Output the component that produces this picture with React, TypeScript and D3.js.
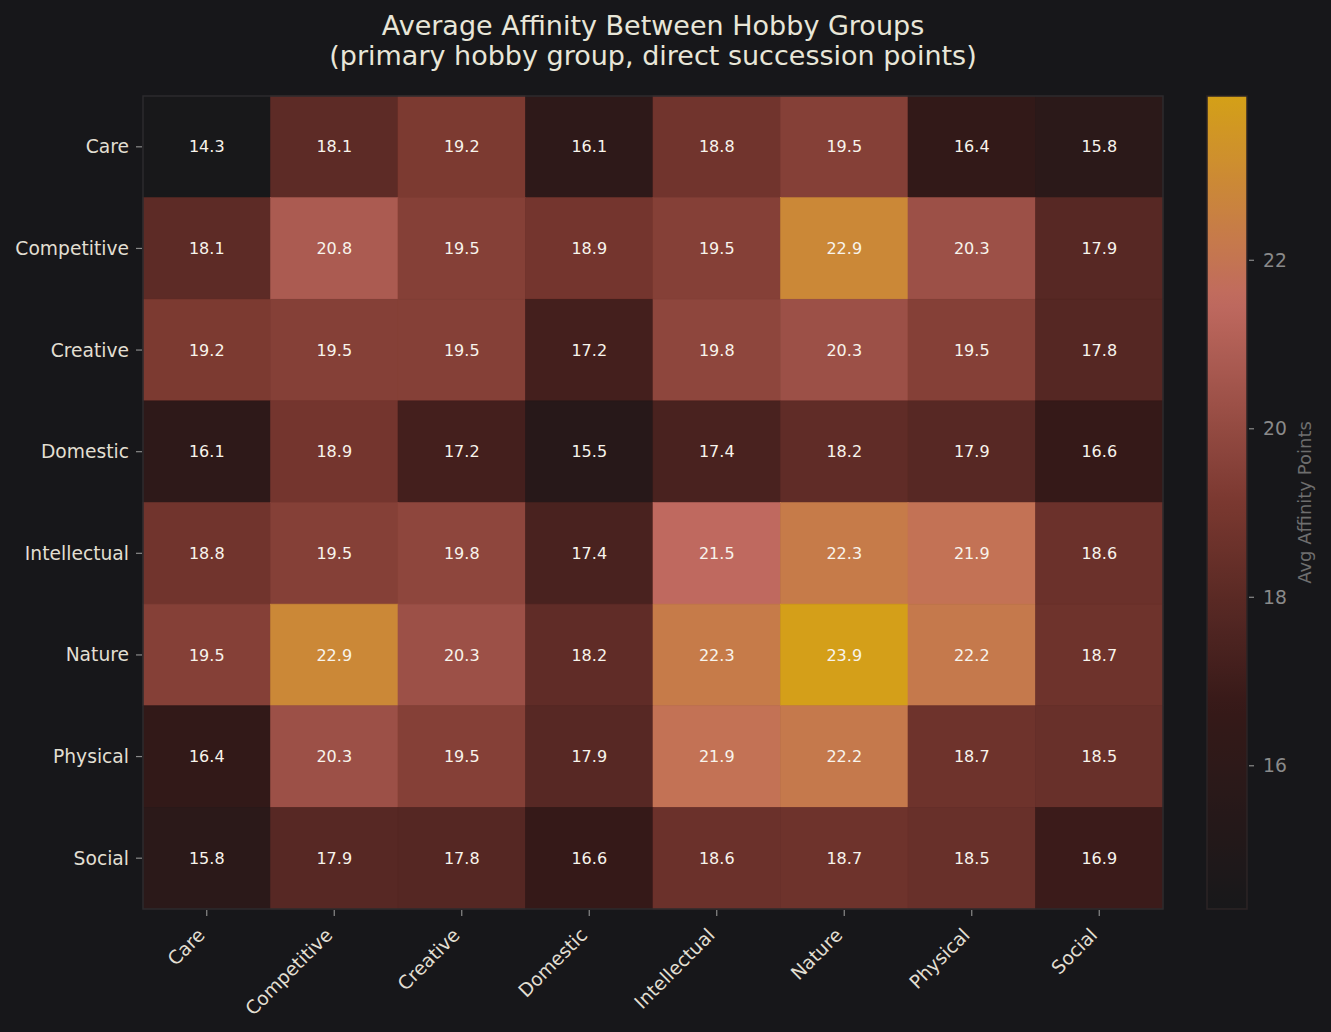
import React from "react";
import * as d3 from "d3";

const groups = ["Care", "Competitive", "Creative", "Domestic", "Intellectual", "Nature", "Physical", "Social"];

const careRow = [14.3, 18.1, 19.2, 16.1, 18.8, 19.5, 16.4, 15.8];
const competitiveRow = [18.1, 20.8, 19.5, 18.9, 19.5, 22.9, 20.3, 17.9];
const creativeRow = [19.2, 19.5, 19.5, 17.2, 19.8, 20.3, 19.5, 17.8];
const domesticRow = [16.1, 18.9, 17.2, 15.5, 17.4, 18.2, 17.9, 16.6];
const intellectualRow = [18.8, 19.5, 19.8, 17.4, 21.5, 22.3, 21.9, 18.6];
const natureRow = [19.5, 22.9, 20.3, 18.2, 22.3, 23.9, 22.2, 18.7];
const physicalRow = [16.4, 20.3, 19.5, 17.9, 21.9, 22.2, 18.7, 18.5];
const socialRow = [15.8, 17.9, 17.8, 16.6, 18.6, 18.7, 18.5, 16.9];

const matrix = [careRow, competitiveRow, creativeRow, domesticRow, intellectualRow, natureRow, physicalRow, socialRow];

const colorbarTicks = [16, 18, 20, 22];
const paletteStops = ["#18181a", "#361918", "#7a3830", "#c06a60", "#d4a017"];

const W = 1331;
const H = 1032;
const BG = "#17171a";
const FONT = "'DejaVu Sans', Verdana, sans-serif";

export default function App() {
  const left = 143;
  const right = 1163;
  const top = 96;
  const bottom = 909;

  const x = d3.scaleBand<string>().domain(groups).range([left, right]);
  const y = d3.scaleBand<string>().domain(groups).range([top, bottom]);

  const vmin = 14.3;
  const vmax = 23.95;
  const stopValues = paletteStops.map((_, i) => vmin + (i / (paletteStops.length - 1)) * (vmax - vmin));
  const color = d3
    .scaleLinear<string>()
    .domain(stopValues)
    .range(paletteStops)
    .interpolate(d3.interpolateRgb)
    .clamp(true);

  const cbLeft = 1207;
  const cbWidth = 40;
  const cbScale = d3.scaleLinear().domain([vmin, vmax]).range([bottom, top]);

  const gradStops = d3.range(0, 1.0001, 0.02);

  const cells = matrix.flatMap((row, i) =>
    row.map((v, j) => ({ r: groups[i], c: groups[j], v }))
  );

  return (
    <svg
      width={W}
      height={H}
      style={{ position: "absolute", left: 0, top: 0, display: "block", background: BG }}
      fontFamily={FONT}
    >
      <defs>
        <linearGradient id="cbGrad" x1="0" y1="1" x2="0" y2="0">
          {gradStops.map((t) => (
            <stop key={t} offset={t} stopColor={color(vmin + t * (vmax - vmin))} />
          ))}
        </linearGradient>
      </defs>
      <rect x={0} y={0} width={W} height={H} fill={BG} />

      {/* title */}
      <text x={653} y={35} textAnchor="middle" fill="#e8e6d8" fontSize={27}>
        Average Affinity Between Hobby Groups
      </text>
      <text x={653} y={65} textAnchor="middle" fill="#e8e6d8" fontSize={27}>
        (primary hobby group, direct succession points)
      </text>

      {/* cells */}
      <g>
        {cells.map((d) => (
          <rect
            key={d.r + d.c}
            x={x(d.c)}
            y={y(d.r)}
            width={x.bandwidth()}
            height={y.bandwidth()}
            fill={color(d.v)}
            stroke={color(d.v)}
            strokeWidth={0.6}
          />
        ))}
        {cells.map((d) => (
          <text
            key={"t" + d.r + d.c}
            x={(x(d.c) as number) + x.bandwidth() / 2}
            y={(y(d.r) as number) + y.bandwidth() / 2}
            dy="0.35em"
            textAnchor="middle"
            fill="#f8f4ec"
            fontSize={16}
          >
            {d.v.toFixed(1)}
          </text>
        ))}
        <rect x={left} y={top} width={right - left} height={bottom - top} fill="none" stroke="#2c2b2e" strokeWidth={1.5} />
      </g>

      {/* y axis */}
      <g>
        {groups.map((g) => {
          const cy = (y(g) as number) + y.bandwidth() / 2;
          return (
            <g key={g}>
              <line x1={left - 7} x2={left - 1} y1={cy} y2={cy} stroke="#8a8a8a" strokeWidth={1.2} />
              <text x={left - 14} y={cy} dy="0.35em" textAnchor="end" fill="#e2dfd2" fontSize={18.7}>
                {g}
              </text>
            </g>
          );
        })}
      </g>

      {/* x axis */}
      <g>
        {groups.map((g) => {
          const cx = (x(g) as number) + x.bandwidth() / 2;
          return (
            <g key={g}>
              <line x1={cx} x2={cx} y1={bottom + 1} y2={bottom + 7} stroke="#8a8a8a" strokeWidth={1.2} />
              <text
                transform={`translate(${cx - 10},${bottom + 18}) rotate(-45)`}
                textAnchor="end"
                dy="0.7em"
                fill="#e2dfd2"
                fontSize={18.7}
              >
                {g}
              </text>
            </g>
          );
        })}
      </g>

      {/* colorbar */}
      <g>
        <rect x={cbLeft} y={top} width={cbWidth} height={bottom - top} fill="url(#cbGrad)" stroke="#2c2426" strokeWidth={1.5} />
        {colorbarTicks.map((t) => (
          <g key={t}>
            <line
              x1={cbLeft + cbWidth + 2}
              x2={cbLeft + cbWidth + 7}
              y1={cbScale(t)}
              y2={cbScale(t)}
              stroke="#8a8a8a"
              strokeWidth={1.2}
            />
            <text x={cbLeft + cbWidth + 16} y={cbScale(t)} dy="0.35em" fill="#8a8a8a" fontSize={18.7}>
              {t}
            </text>
          </g>
        ))}
        <text
          transform={`translate(1305,${(top + bottom) / 2}) rotate(-90)`}
          textAnchor="middle"
          dy="0.35em"
          fill="#6e6e6e"
          fontSize={18}
        >
          Avg Affinity Points
        </text>
      </g>
    </svg>
  );
}
